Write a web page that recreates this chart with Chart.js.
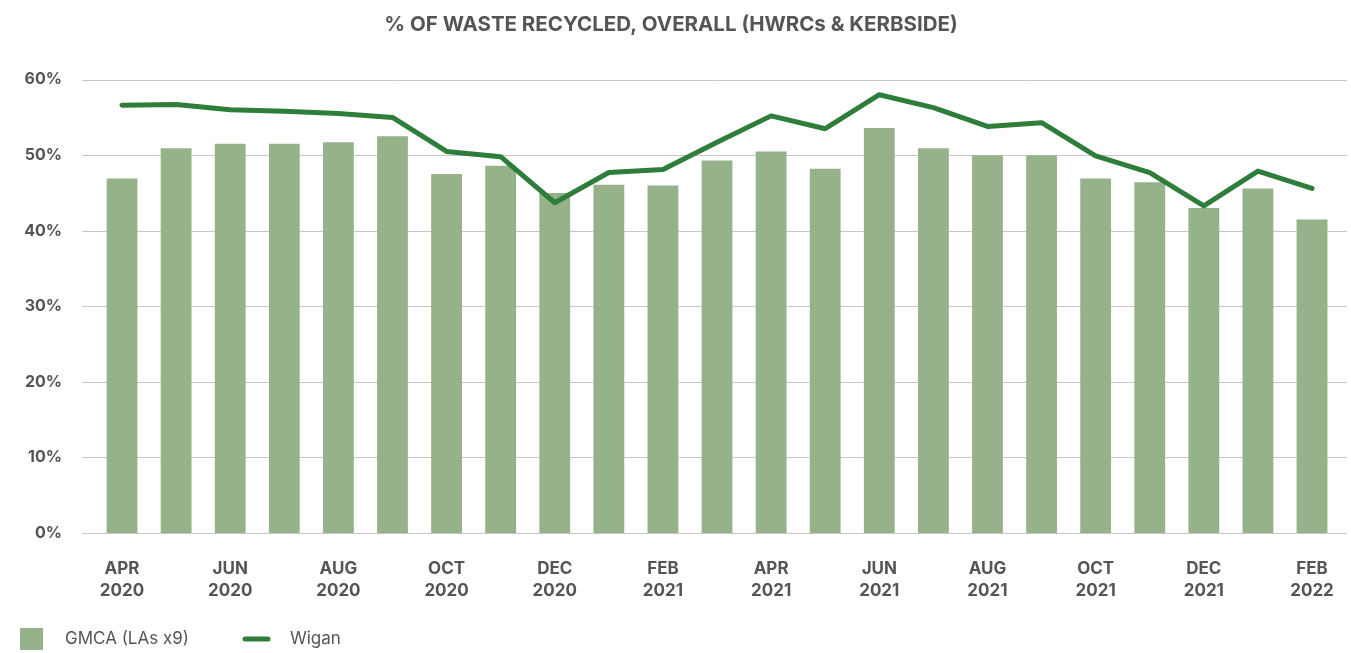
<!DOCTYPE html>
<html>
<head>
<meta charset="utf-8">
<title>% of waste recycled</title>
<script src="https://cdn.jsdelivr.net/npm/chart.js@4.4.0/dist/chart.umd.min.js"></script>
<style>
  html, body { margin: 0; padding: 0; background: #fff; }
  #wrap { width: 1351px; height: 653px; position: relative; }
</style>
</head>
<body>
<div id="wrap"><canvas id="myChart"></canvas></div>
<script>
var months = ['APR 2020', 'MAY 2020', 'JUN 2020', 'JUL 2020', 'AUG 2020', 'SEP 2020', 'OCT 2020', 'NOV 2020', 'DEC 2020',
              'JAN 2021', 'FEB 2021', 'MAR 2021', 'APR 2021', 'MAY 2021', 'JUN 2021', 'JUL 2021', 'AUG 2021', 'SEP 2021',
              'OCT 2021', 'NOV 2021', 'DEC 2021', 'JAN 2022', 'FEB 2022'];
var gmca  = [46.9, 50.9, 51.5, 51.5, 51.7, 52.5, 47.5, 48.6, 45.0, 46.1, 46.0, 49.3, 50.5, 48.2, 53.6, 50.9, 50.0, 50.0, 46.9, 46.4, 43.0, 45.6, 41.5];
var wigan = [56.6, 56.7, 56.0, 55.8, 55.5, 55.0, 50.5, 49.8, 43.7, 47.7, 48.1, 51.7, 55.2, 53.5, 58.0, 56.3, 53.8, 54.3, 49.9, 47.7, 43.3, 47.9, 45.6];
var yTicks = [0, 10, 20, 30, 40, 50, 60];

var fontName = 'Inter';
var textColor = '#555555';
var barColor = '#96b28a';
var lineColor = '#2e7d3b';

// horizontal gridlines run a little past the bars on both sides
var wideGrid = {
    id: 'wideGrid',
    beforeDatasetsDraw: function(chart) {
        var ctx = chart.ctx;
        var area = chart.chartArea;
        var y = chart.scales.y;
        ctx.save();
        ctx.strokeStyle = '#c6c6c6';
        ctx.lineWidth = 1;
        yTicks.forEach(function(v) {
            var py = Math.round(y.getPixelForValue(v)) + 0.5;
            ctx.beginPath();
            ctx.moveTo(area.left - 13, py);
            ctx.lineTo(area.right + 8, py);
            ctx.stroke();
        });
        ctx.restore();
    }
};

// simple legend row in the bottom left corner
var bottomLegend = {
    id: 'bottomLegend',
    afterDraw: function(chart) {
        var ctx = chart.ctx;
        var ds = chart.data.datasets;
        var cy = 639;
        ctx.save();
        ctx.font = '400 17px ' + fontName;
        ctx.textBaseline = 'middle';

        ctx.fillStyle = ds[0].backgroundColor;
        ctx.fillRect(20, cy - 11, 23, 22);
        ctx.fillStyle = textColor;
        ctx.fillText(ds[0].label, 65, cy);

        ctx.strokeStyle = ds[1].borderColor;
        ctx.lineWidth = 5;
        ctx.lineCap = 'round';
        ctx.beginPath();
        ctx.moveTo(245, cy);
        ctx.lineTo(268, cy);
        ctx.stroke();
        ctx.fillText(ds[1].label, 290, cy);
        ctx.restore();
    }
};

var ctx = document.getElementById('myChart');
var myChart = new Chart(ctx, {
    type: 'bar',
    data: {
        labels: months,
        datasets: [{
            label: 'GMCA (LAs x9)',
            data: gmca,
            backgroundColor: barColor,
            borderWidth: 0,
            categoryPercentage: 1,
            barPercentage: 0.57,
            order: 2
        }, {
            type: 'line',
            label: 'Wigan',
            data: wigan,
            borderColor: lineColor,
            backgroundColor: lineColor,
            borderWidth: 5,
            borderCapStyle: 'round',
            borderJoinStyle: 'round',
            tension: 0,
            pointRadius: 0,
            order: 1
        }]
    },
    options: {
        responsive: true,
        maintainAspectRatio: false,
        animation: false,
        layout: { padding: { top: 0, left: 0, right: 9, bottom: 0 } },
        plugins: {
            legend: { display: false },
            tooltip: { enabled: false },
            title: {
                display: true,
                text: '% OF WASTE RECYCLED, OVERALL (HWRCs & KERBSIDE)',
                color: textColor,
                font: { family: fontName, size: 20.5, weight: 'bold' },
                padding: { top: 13, bottom: 42 }
            }
        },
        scales: {
            x: {
                grid: { display: false },
                border: { display: false },
                afterFit: function(scale) { scale.height = 120; },
                ticks: {
                    autoSkip: false,
                    maxRotation: 0,
                    padding: 17,
                    color: textColor,
                    font: { family: fontName, size: 17, weight: 'bold', lineHeight: 1.3 },
                    callback: function(value, index) {
                        if (index % 2 !== 0) return '';
                        return months[index].split(' ');
                    }
                }
            },
            y: {
                min: 0,
                max: 60,
                grid: { display: false, drawTicks: false },
                border: { display: false },
                afterFit: function(scale) { scale.width = 95; },
                afterBuildTicks: function(scale) {
                    scale.ticks = yTicks.map(function(v) { return { value: v }; });
                },
                ticks: {
                    padding: 33,
                    color: textColor,
                    font: { family: fontName, size: 16, weight: 'bold' },
                    callback: function(value) { return value + '%'; }
                }
            }
        }
    },
    plugins: [wideGrid, bottomLegend]
});
</script>
</body>
</html>
